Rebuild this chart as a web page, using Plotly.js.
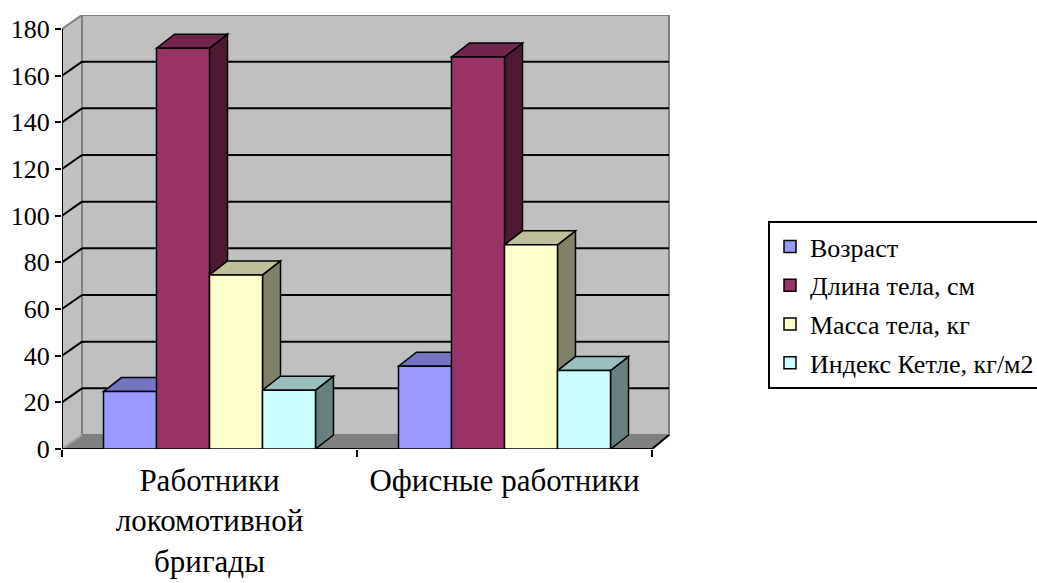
<!DOCTYPE html>
<html>
<head>
<meta charset="utf-8">
<script src="https://cdn.plot.ly/plotly-3.0.1.min.js"></script>
<style>
  html, body { margin: 0; padding: 0; background: #ffffff; }
  #chart { width: 1037px; height: 583px; }
</style>
</head>
<body>
<div id="chart"></div>
<script>
// ---- data ----
const categories = ['Работники<br>локомотивной<br>бригады', 'Офисные работники'];
const seriesNames = ['Возраст', 'Длина тела, см', 'Масса тела, кг', 'Индекс Кетле, кг/м2'];
const vozrast = [24.6, 35.5];
const dlina = [171.8, 168.0];
const massa = [74.6, 87.5];
const indeks = [25.2, 33.6];
const yTicks = [0, 20, 40, 60, 80, 100, 120, 140, 160, 180];

// ---- style ----
const frontColors = ['#9999FF', '#993366', '#FFFFCC', '#CCFFFF'];
const FONT = 'Liberation Serif';
const seriesValues = [vozrast, dlina, massa, indeks];

function shade(hex, f) {
  const n = parseInt(hex.slice(1), 16);
  const r = Math.round(((n >> 16) & 255) * f);
  const g = Math.round(((n >> 8) & 255) * f);
  const b = Math.round((n & 255) * f);
  return 'rgb(' + r + ',' + g + ',' + b + ')';
}

// geometry of plot (pixels)
const marginL = 62, marginR = 365, marginT = 15, marginB = 134;
const plotW = 1037 - marginL - marginR;
const plotH = 583 - marginT - marginB;
const yMax = yTicks[yTicks.length - 1];
const xLo = -0.5, xFront = categories.length - 0.5;
const pxPerX = (590) / categories.length;
const xRange = [xLo, xLo + plotW / pxPerX];
const pxPerY = 420 / yMax;
const yRange = [0, plotH / pxPerY];
const dxu = px => px / pxPerX;
const dyu = px => px / pxPerY;

const bargap = 0.2814;
const groupW = 1 - bargap;
const nS = seriesValues.length;
const barW = groupW / nS;

const wdxL = dxu(20), wdxR = dxu(17), wdy = dyu(14);
const bdx = dxu(18), bdy = dyu(14);

function poly(pts) {
  return 'M' + pts.map(p => p[0] + ',' + p[1]).join(' L') + ' Z';
}

const shapes = [];
shapes.push({type: 'path', layer: 'below', xref: 'x', yref: 'y',
  path: poly([[xLo, 0], [xLo, yMax], [xLo + wdxL, yMax + wdy], [xLo + wdxL, wdy]]),
  fillcolor: '#C0C0C0', line: {width: 0}});
shapes.push({type: 'rect', layer: 'below', xref: 'x', yref: 'y',
  x0: xLo + wdxL, x1: xFront + wdxR, y0: wdy, y1: yMax + wdy,
  fillcolor: '#C0C0C0', line: {color: '#808080', width: 2}});
shapes.push({type: 'path', layer: 'below', xref: 'x', yref: 'y',
  path: poly([[xLo, 0], [xFront, 0], [xFront + wdxR, wdy], [xLo + wdxL, wdy]]),
  fillcolor: '#808080', line: {width: 0}});
shapes.push({type: 'line', layer: 'below', xref: 'x', yref: 'y',
  x0: xLo, y0: 0, x1: xLo + wdxL, y1: wdy, line: {color: '#a0a0a0', width: 2}});
shapes.push({type: 'line', layer: 'below', xref: 'x', yref: 'y',
  x0: xLo, y0: yMax, x1: xLo + wdxL, y1: yMax + wdy, line: {color: '#808080', width: 2}});
yTicks.forEach(v => {
  if (v === 0 || v === yMax) return;
  shapes.push({type: 'line', layer: 'below', xref: 'x', yref: 'y',
    x0: xLo + wdxL, y0: v + wdy, x1: xFront + wdxR, y1: v + wdy, line: {color: '#000', width: 2}});
  shapes.push({type: 'line', layer: 'below', xref: 'x', yref: 'y',
    x0: xLo, y0: v, x1: xLo + wdxL, y1: v + wdy, line: {color: '#000', width: 2}});
});
shapes.push({type: 'line', layer: 'below', xref: 'x', yref: 'y',
  x0: xLo, y0: 0, x1: xFront, y1: 0, line: {color: '#000', width: 2}});
shapes.push({type: 'line', layer: 'below', xref: 'x', yref: 'y',
  x0: xFront, y0: 0, x1: xFront + wdxR, y1: wdy, line: {color: '#000', width: 2}});
shapes.push({type: 'line', layer: 'below', xref: 'x', yref: 'y',
  x0: xLo, y0: 0, x1: xLo, y1: yMax, line: {color: '#000', width: 2}});

for (let c = 0; c < categories.length; c++) {
  for (let i = 0; i < nS; i++) {
    const v = seriesValues[i][c];
    const x0 = c - groupW / 2 + i * barW;
    const x1 = x0 + barW;
    shapes.push({type: 'path', layer: 'below', xref: 'x', yref: 'y',
      path: poly([[x1, 0], [x1 + bdx, bdy], [x1 + bdx, v + bdy], [x1, v]]),
      fillcolor: shade(frontColors[i], 0.5), line: {color: '#000', width: 1.5}});
    shapes.push({type: 'path', layer: 'below', xref: 'x', yref: 'y',
      path: poly([[x0, v], [x1, v], [x1 + bdx, v + bdy], [x0 + bdx, v + bdy]]),
      fillcolor: shade(frontColors[i], 0.75), line: {color: '#000', width: 1.5}});
  }
}

const xPos = categories.map((_, i) => i);
const traces = seriesNames.map((name, i) => ({
  type: 'bar',
  name: name,
  x: xPos,
  y: seriesValues[i],
  legendgroup: 'g' + i,
  marker: {color: frontColors[i], line: {color: '#000', width: 1.5}},
  hoverinfo: 'skip'
}));

const layout = {
  width: 1037, height: 583,
  margin: {l: marginL, r: marginR, t: marginT, b: marginB, pad: 0},
  paper_bgcolor: '#ffffff',
  plot_bgcolor: 'rgba(0,0,0,0)',
  barmode: 'group',
  bargap: bargap,
  bargroupgap: 0,
  showlegend: true,
  font: {family: FONT, color: '#000'},
  xaxis: {
    range: xRange, fixedrange: true,
    tickvals: xPos, ticktext: categories,
    ticks: '', showgrid: false, zeroline: false, showline: false,
    tickfont: {family: FONT, size: 31, color: '#000'},
    ticklabelstandoff: 10,
    minor: {tickvals: [-0.5, 0.5, 1.5], ticks: 'outside', ticklen: 7, tickwidth: 2, tickcolor: '#000', showgrid: false}
  },
  yaxis: {
    range: yRange, fixedrange: true,
    tickvals: yTicks,
    ticks: 'outside', ticklen: 6, tickwidth: 2, tickcolor: '#000',
    showgrid: false, zeroline: false, showline: false,
    tickfont: {family: FONT, size: 26, color: '#000'}
  },
  legend: {
    xref: 'container', yref: 'container',
    x: 768 / 1037, y: 1 - 221 / 583, xanchor: 'left', yanchor: 'top',
    bgcolor: '#ffffff', bordercolor: '#000', borderwidth: 2,
    font: {family: FONT, size: 26, color: '#000'},
    tracegroupgap: 2,
    traceorder: 'grouped',
    itemwidth: 30
  },
  shapes: shapes
};

Plotly.newPlot('chart', traces, layout, {displayModeBar: false, staticPlot: true});
</script>
</body>
</html>
